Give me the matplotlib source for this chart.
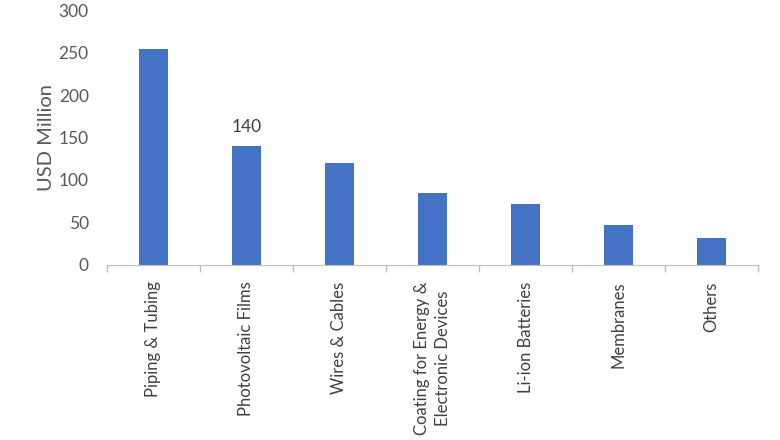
import matplotlib
matplotlib.use("Agg")
import matplotlib.pyplot as plt
import numpy as np

categories = ["Piping & Tubing", "Photovoltaic Films", "Wires & Cables",
              "Coating for Energy &\nElectronic Devices", "Li-ion Batteries",
              "Membranes", "Others"]
values = [254, 140, 120, 85, 72, 47, 32]
yticks = [0, 50, 100, 150, 200, 250, 300]

plt.rcParams['font.family'] = ['Lato', 'DejaVu Sans']

fig = plt.figure(figsize=(7.8, 4.4), dpi=100)
ax = fig.add_axes([0.137, 0.398, 0.835, 0.579])

x = np.arange(len(categories))
bars = ax.bar(x, values, width=0.31, color="#4472C4")

ax.set_xlim(-0.5, len(categories) - 0.5)
ax.set_ylim(0, 300)
ax.set_yticks(yticks)
ax.set_yticklabels([str(v) for v in yticks], color="#595959", fontsize=12.5)
ax.tick_params(axis='y', length=0, pad=13)

ax.set_xticks(x)
ax.set_xticklabels(categories, rotation=90, fontsize=12, color="#404040",
                   va='top', ha='center', linespacing=1.45)
ax.tick_params(axis='x', length=0, pad=12)
ax.set_xticks(np.arange(len(categories) + 1) - 0.5, minor=True)
ax.tick_params(axis='x', which='minor', length=5, color="#BFBFBF", width=1)

for s in ['top', 'right', 'left']:
    ax.spines[s].set_visible(False)
ax.spines['bottom'].set_color("#BFBFBF")

ax.set_ylabel("USD Million", fontsize=14.5, color="#595959", labelpad=3)

ax.annotate(str(values[1]), (x[1], values[1]), xytext=(0, 8),
            textcoords='offset points', ha='center', va='bottom',
            fontsize=12.5, color="#404040")

fig.savefig("out.png", dpi=100)
